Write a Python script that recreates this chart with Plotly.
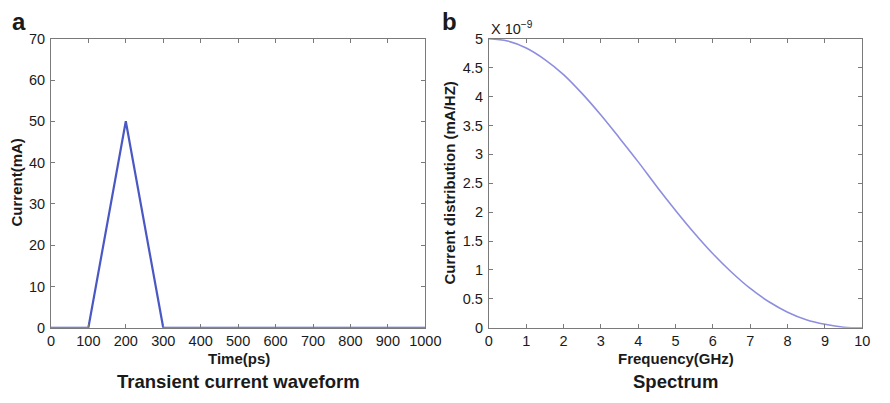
import plotly.graph_objects as go

# Transient current pulse (triangular)
time_ps = [0, 100, 200, 300, 1000]
current_ma = [0, 0, 50, 0, 0]

# Spectrum magnitude (units of 1e-9 mA/Hz)
freq_ghz = [0, 0.5, 1, 1.5, 2, 2.5, 3, 3.5, 4, 4.5, 5, 5.5, 6, 6.5, 7, 7.5, 8, 8.5, 9, 9.5, 10]
spectrum = [5.00, 4.96, 4.84, 4.64, 4.38, 4.05, 3.68, 3.28, 2.87, 2.44, 2.03, 1.64, 1.28,
            0.96, 0.68, 0.45, 0.27, 0.14, 0.06, 0.01, 0.00]

W, H = 890, 403
FONT = "Liberation Sans, Arial, Helvetica, sans-serif"
AX_COL = "#7a7a7a"

fig = go.Figure()
fig.add_trace(go.Scatter(x=time_ps, y=current_ma, mode="lines",
                         line=dict(color="#4a58c4", width=2.2),
                         xaxis="x", yaxis="y", showlegend=False))
fig.add_trace(go.Scatter(x=freq_ghz, y=spectrum, mode="lines", line_shape="spline",
                         line=dict(color="#8e8ee0", width=1.6),
                         xaxis="x2", yaxis="y2", showlegend=False))

def px_x(p):
    return p / W

def px_y(p):
    return (H - p) / H

common = dict(showline=True, linecolor=AX_COL, linewidth=1, mirror="ticks",
              ticks="inside", ticklen=4, tickcolor=AX_COL, showgrid=False,
              zeroline=False, tickfont=dict(family=FONT, size=14.5, color="#1a1a1a"))

fig.update_layout(
    width=W, height=H, margin=dict(l=0, r=0, t=0, b=0),
    paper_bgcolor="white", plot_bgcolor="white",
    xaxis=dict(domain=[px_x(48), px_x(431)], range=[0, 1000], dtick=100,
               anchor="y", ticklabelstandoff=0, **common),
    yaxis=dict(domain=[px_y(333), px_y(32)], range=[0, 70], dtick=10,
               anchor="x", ticklabelstandoff=2, **common),
    xaxis2=dict(domain=[px_x(496), px_x(878)], range=[0, 10], dtick=1,
                anchor="y2", ticklabelstandoff=0, **common),
    yaxis2=dict(domain=[px_y(333), px_y(32)], range=[0, 5], dtick=0.5,
                anchor="x2", ticklabelstandoff=2, **common),
)

def label(text, x, y, size, bold=True, angle=0, xanchor="center", yanchor="middle"):
    fig.add_annotation(text=f"<b>{text}</b>" if bold else text,
                       x=x / W, y=(H - y) / H, xref="paper", yref="paper",
                       showarrow=False, textangle=angle, xanchor=xanchor, yanchor=yanchor,
                       borderpad=0,
                       font=dict(family=FONT, size=size, color="#1a1a1a"))

# Axis titles
label("Time(ps)", 240, 365, 15)
label("Frequency(GHz)", 687, 365, 15)
label("Current(mA)", 13, 182, 15, angle=-90)
label("Current distribution (mA/HZ)", 456, 182, 15, angle=-90)

# Panel captions
label("Transient current waveform", 240, 389, 18.5)
label("Spectrum", 687, 389, 18.5)

# Panel letters
label("a", 15, 14, 24)
label("b", 456, 14, 24)

# Exponent marker
label("X 10<sup>−9</sup>", 497, 31, 14.5, bold=False, xanchor="left", yanchor="bottom")

fig.write_html("out.html")
